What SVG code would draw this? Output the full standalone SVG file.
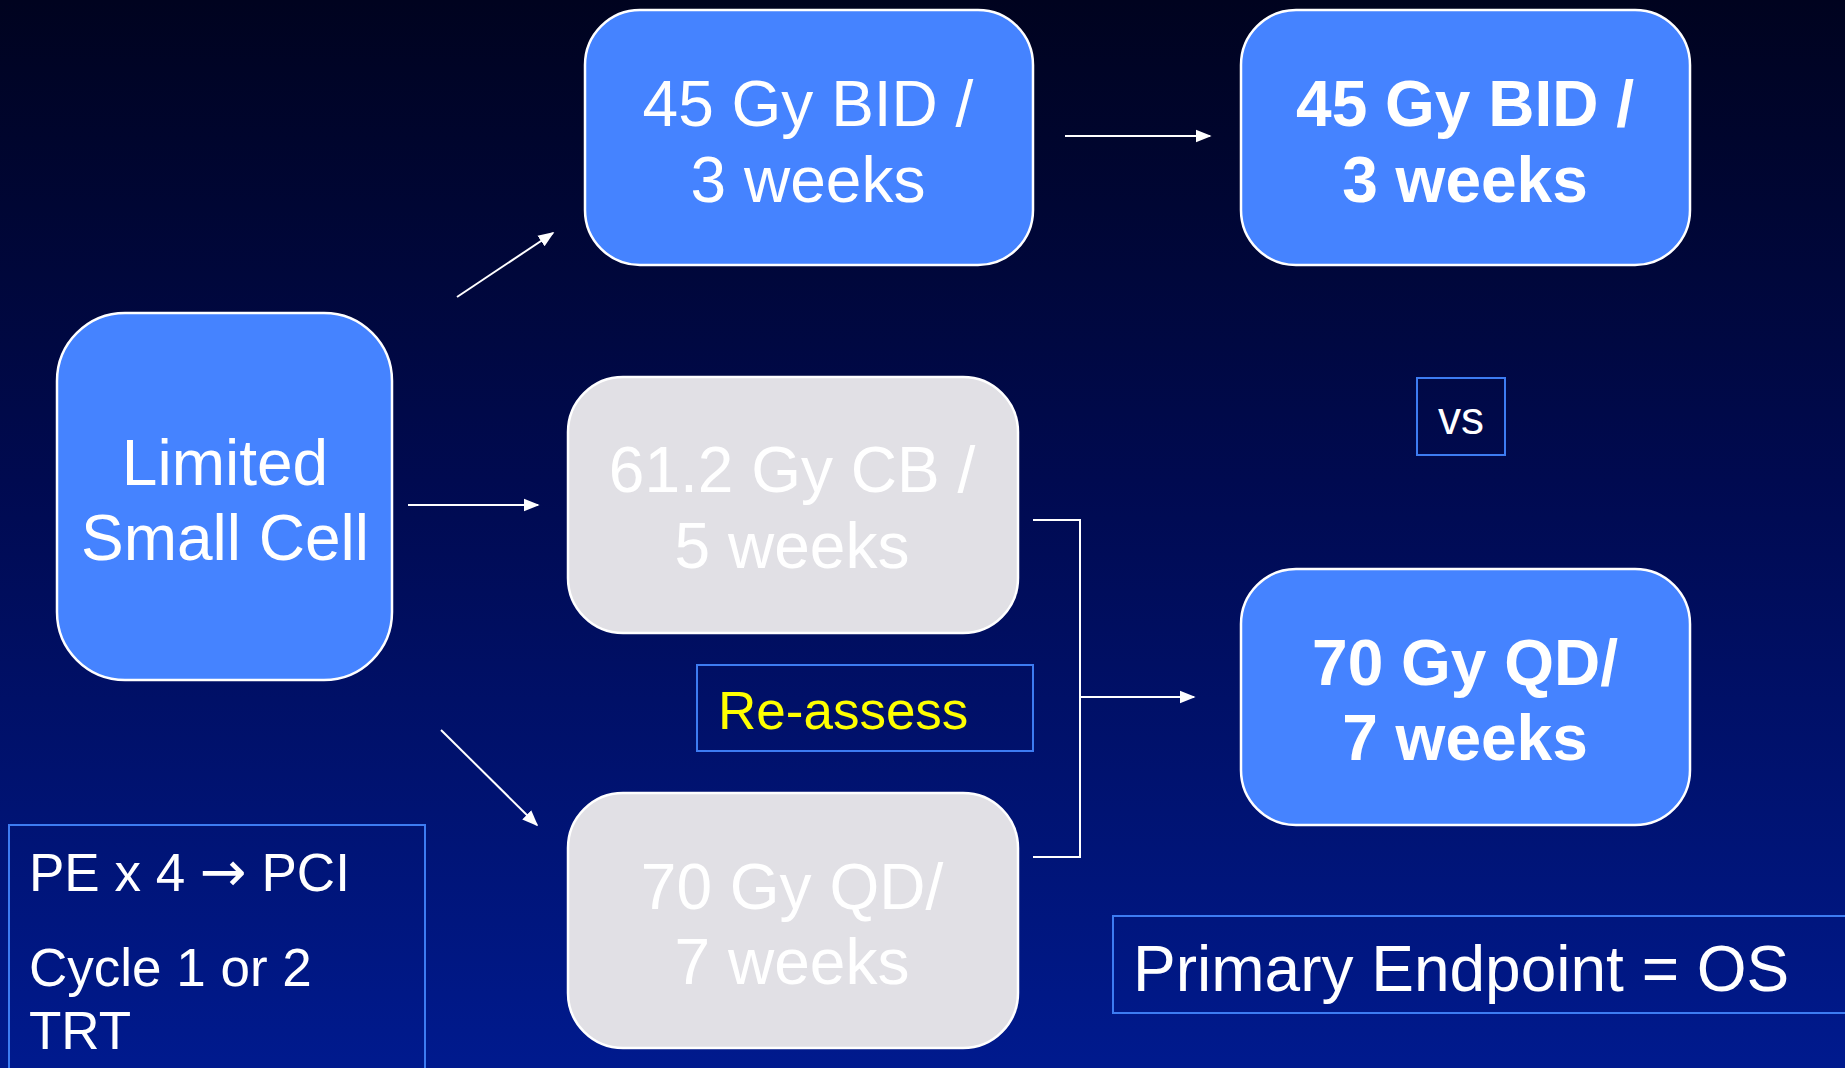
<svg xmlns="http://www.w3.org/2000/svg" width="1845" height="1068" viewBox="0 0 1845 1068">
<defs>
<linearGradient id="bg" x1="0" y1="0" x2="0" y2="1">
<stop offset="0" stop-color="#00031f"/>
<stop offset="0.45" stop-color="#000a50"/>
<stop offset="1" stop-color="#001a8e"/>
</linearGradient>
<marker id="ah" viewBox="0 0 10 10" refX="9" refY="5" markerWidth="16" markerHeight="16" markerUnits="userSpaceOnUse" orient="auto">
<path d="M0,1 L10,5 L0,9 z" fill="#ffffff"/>
</marker>
<style>
.blue{fill:#4583ff;stroke:#ffffff;stroke-width:2.5}
.gray{fill:#e1e0e5;stroke:#ffffff;stroke-width:2.5}
.frame{fill:none;stroke:#3d7cf2;stroke-width:2}
.t{font-family:"Liberation Sans",Arial,sans-serif;fill:#ffffff;text-anchor:middle}
.b{font-weight:bold}
.l{text-anchor:start}
.c{fill:none;stroke:#ffffff;stroke-width:2}
</style>
</defs>
<rect width="1845" height="1068" fill="url(#bg)"/>
<g id="connectors">
<path class="c" d="M457,297 L553,233" marker-end="url(#ah)"/>
<path class="c" d="M408,505 L538,505" marker-end="url(#ah)"/>
<path class="c" d="M441,730 L537,825" marker-end="url(#ah)"/>
<path class="c" d="M1065,136 L1210,136" marker-end="url(#ah)"/>
<path class="c" d="M1033,520 L1080,520 L1080,857 L1033,857"/>
<path class="c" d="M1080,697 L1194,697" marker-end="url(#ah)"/>
</g>
<g id="limited">
<rect class="blue" x="57" y="313" width="335" height="367" rx="68"/>
<text class="t" font-size="64" x="225" y="485">Limited</text>
<text class="t" font-size="64" x="225" y="560">Small Cell</text>
</g>
<g id="bid1">
<rect class="blue" x="585" y="10" width="448" height="255" rx="55"/>
<text class="t" font-size="64" x="808" y="126">45 Gy BID /</text>
<text class="t" font-size="64" x="808" y="202">3 weeks</text>
</g>
<g id="bid2">
<rect class="blue" x="1241" y="10" width="449" height="255" rx="55"/>
<text class="t b" font-size="64" x="1465" y="126">45 Gy BID /</text>
<text class="t b" font-size="64" x="1465" y="202">3 weeks</text>
</g>
<g id="cb">
<rect class="gray" x="568" y="377" width="450" height="256" rx="55"/>
<text class="t" font-size="64" x="792" y="492">61.2 Gy CB /</text>
<text class="t" font-size="64" x="792" y="568">5 weeks</text>
</g>
<g id="qd-gray">
<rect class="gray" x="568" y="793" width="450" height="255" rx="55"/>
<text class="t" font-size="64" x="792" y="909">70 Gy QD/</text>
<text class="t" font-size="64" x="792" y="984">7 weeks</text>
</g>
<g id="reassess">
<rect class="frame" x="697" y="665" width="336" height="86"/>
<text class="t l" font-size="53" x="718" y="729" style="fill:#ffff00">Re-assess</text>
</g>
<g id="vs">
<rect class="frame" x="1417" y="378" width="88" height="77"/>
<text class="t" font-size="46" x="1461" y="434">vs</text>
</g>
<g id="qd-blue">
<rect class="blue" x="1241" y="569" width="449" height="256" rx="55"/>
<text class="t b" font-size="64" x="1465" y="685">70 Gy QD/</text>
<text class="t b" font-size="64" x="1465" y="760">7 weeks</text>
</g>
<g id="endpoint">
<rect class="frame" x="1113" y="916" width="740" height="97"/>
<text class="t l" font-size="64" x="1133" y="991">Primary Endpoint = OS</text>
</g>
<g id="pe">
<rect class="frame" x="9" y="825" width="416" height="260"/>
<text class="t l" font-size="53" x="29" y="891">PE x 4 <tspan font-family="'DejaVu Sans',sans-serif" font-size="56">→</tspan> PCI</text>
<text class="t l" font-size="53" x="29" y="986">Cycle 1 or 2</text>
<text class="t l" font-size="53" x="29" y="1049">TRT</text>
</g>
</svg>
